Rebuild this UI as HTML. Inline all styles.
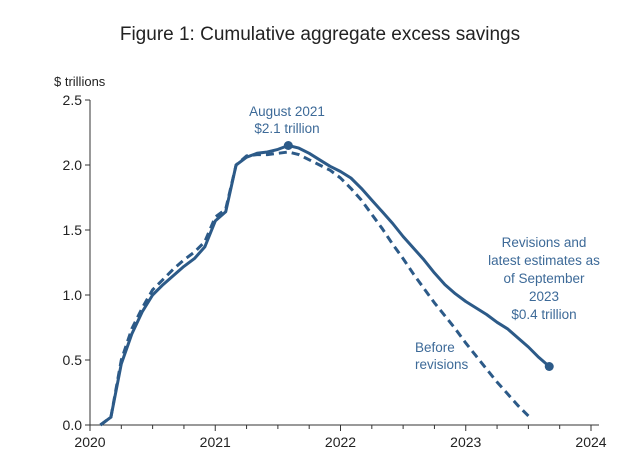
<!DOCTYPE html>
<html><head><meta charset="utf-8"><style>
body{margin:0;background:#fff;}
svg text{font-family:"Liberation Sans",sans-serif;}
</style></head><body>
<svg id="chart" width="644" height="462" viewBox="0 0 644 462" xmlns="http://www.w3.org/2000/svg">
<text x="320" y="40" text-anchor="middle" font-size="19" fill="#222">Figure 1: Cumulative aggregate excess savings</text>
<text x="54" y="86" font-size="13" fill="#222">$ trillions</text>
<g id="axes"></g>
<g id="series"></g>
<text x="287" y="116" text-anchor="middle" font-size="13.5" fill="#3d6a98">August 2021<tspan x="287" dy="17">$2.1 trillion</tspan></text>
<text x="544" y="247" text-anchor="middle" font-size="13.5" fill="#3d6a98">Revisions and<tspan x="544" dy="18">latest estimates as</tspan><tspan x="544" dy="18">of September</tspan><tspan x="544" dy="18">2023</tspan><tspan x="544" dy="18">$0.4 trillion</tspan></text>
<text x="415" y="352" font-size="13.5" fill="#3d6a98">Before<tspan x="415" dy="17">revisions</tspan></text>
</svg>
<script>
const yTicks=[0,0.5,1.0,1.5,2.0,2.5];
const yTickLabels=["0.0","0.5","1.0","1.5","2.0","2.5"];
const xYears=[2020,2021,2022,2023,2024];
const revisedMonths=[1,2,3,4,5,6,7,8,9,10,11,12,13,14,15,16,17,18,19,20,21,22,23,24,25,26,27,28,29,30,31,32,33,34,35,36,37,38,39,40,41,42,43,44];
const revisedValues=[0,0.06,0.47,0.70,0.87,1.0,1.08,1.15,1.22,1.28,1.37,1.57,1.64,2.0,2.06,2.09,2.10,2.12,2.15,2.13,2.09,2.04,1.99,1.95,1.90,1.82,1.73,1.64,1.55,1.45,1.36,1.27,1.17,1.08,1.01,0.95,0.90,0.85,0.79,0.74,0.67,0.60,0.52,0.45];
const beforeMonths=[1,2,3,4,5,6,7,8,9,10,11,12,13,14,15,16,17,18,19,20,21,22,23,24,25,26,27,28,29,30,31,32,33,34,35,36,37,38,39,40,41,42];
const beforeValues=[0,0.06,0.5,0.74,0.9,1.04,1.12,1.2,1.27,1.33,1.41,1.6,1.66,2.0,2.07,2.08,2.08,2.09,2.10,2.08,2.04,2.0,1.96,1.90,1.82,1.73,1.62,1.51,1.39,1.28,1.16,1.05,0.94,0.84,0.74,0.63,0.53,0.43,0.33,0.24,0.15,0.07];
const NS="http://www.w3.org/2000/svg";
const X0=90,X1=591,Y0=425,Y1=100;
const xm=m=>X0+m*(X1-X0)/48;
const yv=v=>Y0-v*(Y0-Y1)/2.5;
const axes=document.getElementById('axes'),series=document.getElementById('series');
function mk(tag,attrs,parent){const e=document.createElementNS(NS,tag);for(const k in attrs)e.setAttribute(k,attrs[k]);parent.appendChild(e);return e;}
let e=mk('line',{x1:X0,y1:Y0,x2:X0,y2:Y1,stroke:'#333','stroke-width':1},axes);


e=mk('line',{x1:X0,y1:Y0,x2:X1+8,y2:Y0,stroke:'#333','stroke-width':1},axes);


yTicks.forEach((v,i)=>{
 const t=mk('line',{x1:X0-5,y1:yv(v),x2:X0,y2:yv(v),stroke:'#333'},axes);
 
 
 const l=mk('text',{x:X0-8,y:yv(v)+5,'text-anchor':'end','font-size':14,fill:'#222'},axes);
 l.textContent=yTickLabels[i];
 
 
});
for(let q=0;q<=16;q++){
 const major=q%4===0;
 const t=mk('line',{x1:xm(q*3),y1:Y0,x2:xm(q*3),y2:Y0+(major?6:4),stroke:'#333'},axes);
 
 
}
xYears.forEach((yr,i)=>{
 const l=mk('text',{x:xm(i*12),y:Y0+22,'text-anchor':'middle','font-size':14,fill:'#222'},axes);
 l.textContent=String(yr);
 
 
});
function pts(ms,vs){return ms.map((m,i)=>xm(m).toFixed(1)+','+yv(vs[i]).toFixed(1)).join(' ');}
e=mk('polyline',{points:pts(beforeMonths,beforeValues),fill:'none',stroke:'#2c5a88','stroke-width':3,'stroke-dasharray':'8,5','stroke-linejoin':'round'},series);


e=mk('polyline',{points:pts(revisedMonths,revisedValues),fill:'none',stroke:'#2c5a88','stroke-width':3,'stroke-linejoin':'round'},series);


e=mk('circle',{cx:xm(19),cy:yv(revisedValues[18]),r:4.5,fill:'#2c5a88'},series);


const last=revisedMonths.length-1;
e=mk('circle',{cx:xm(revisedMonths[last]),cy:yv(revisedValues[last]),r:4.5,fill:'#2c5a88'},series);


</script>
</body></html>
